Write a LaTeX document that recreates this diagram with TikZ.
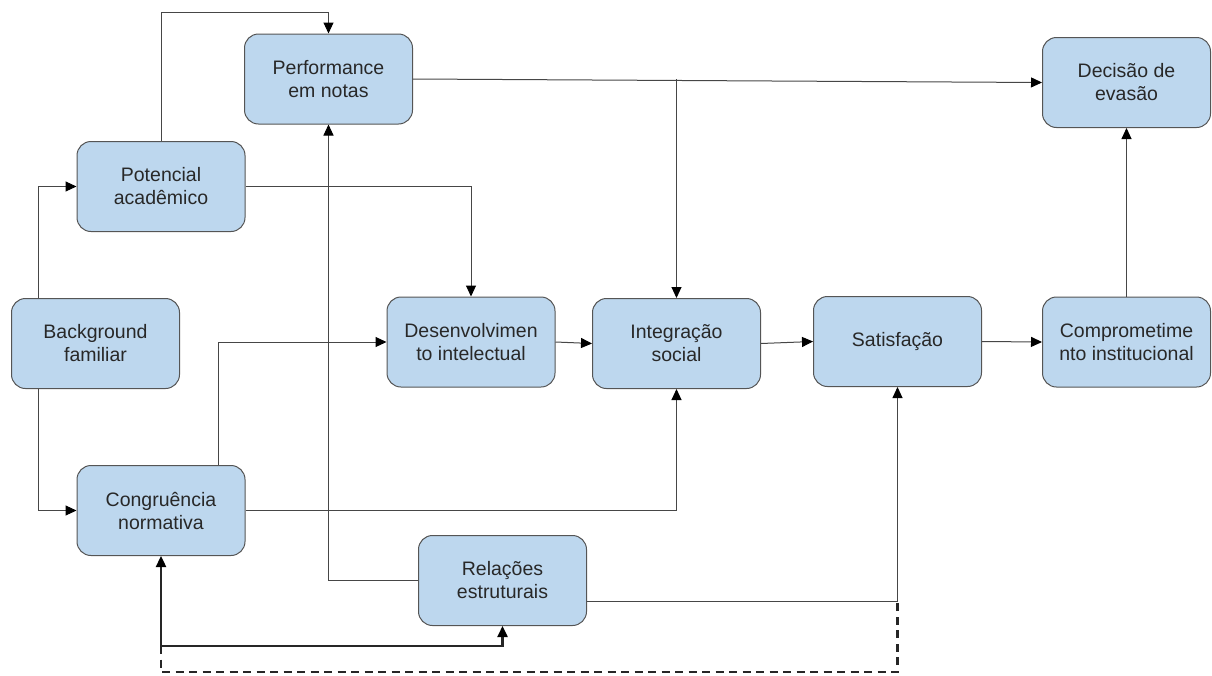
\documentclass[tikz,border=0pt]{standalone}
\usepackage{fontspec}
\setmainfont{Liberation Sans}
\usetikzlibrary{arrows.meta,calc}
\definecolor{boxfill}{RGB}{189,215,238}
\definecolor{boxdraw}{RGB}{85,85,85}
\definecolor{txt}{RGB}{40,40,40}
\definecolor{ln}{RGB}{70,70,70}
\tikzset{
  box/.style={draw=boxdraw, line width=1pt, fill=boxfill, rounded corners=14pt,
    minimum width=168pt, minimum height=90pt, inner sep=0pt, align=center,
    text=txt, font=\fontsize{19.5}{23}\selectfont},
  tip/.tip={Triangle[length=11pt,width=10pt,fill=black,color=black]},
  arr/.style={draw=ln, line width=1pt, -tip},
  thk/.style={draw=black!85, line width=2.4pt},
  dsh/.style={draw=black!85, line width=2.4pt, dash pattern=on 8pt off 5.5pt},
}
\begin{document}
\begin{tikzpicture}[x=1pt,y=-1pt]
\useasboundingbox (0,0) rectangle (1212,675);
\node[box] (perf) at (328.5,79) {Performance\\em notas};
\node[box] (deci) at (1126.5,82.5) {Decisão de\\evasão};
\node[box] (pot) at (161,186.5) {Potencial\\acadêmico};
\node[box] (back) at (95.5,343.5) {Background\\familiar};
\node[box] (desen) at (471,342) {Desenvolvimen\\to intelectual};
\node[box] (integ) at (676.5,343.5) {Integração\\social};
\node[box] (satis) at (897.5,341.5) {Satisfação};
\node[box] (comp) at (1126.5,342) {Comprometime\\nto institucional};
\node[box] (cong) at (161,510.5) {Congruência\\normativa};
\node[box] (rel) at (502.5,580.5) {Relações\\estruturais};

\coordinate (t1) at (161,12);
\coordinate (bx) at (38,0);
\coordinate (cx) at (218,0);
\coordinate (r1) at (587,601);
\coordinate (b1) at (161,646);
\coordinate (b2) at (161,672);

\draw[arr] (pot.north) -- (t1) -| (perf.north);
\draw[arr] (back.north -| bx) |- (pot.west);
\draw[arr] (back.south -| bx) |- (cong.west);
\draw[arr] (pot.east) -| (desen.north);
\draw[arr] (cong.north -| cx) |- (desen.west);
\draw[arr] (perf.east) -- (deci.west);
\draw[arr] (perf.east -| integ.north) -- (integ.north);
\draw[arr] (desen.east) -- (integ.west);
\draw[arr] (integ.east) -- (satis.west);
\draw[arr] (satis.east) -- (comp.west);
\draw[arr] (comp.north) -- (deci.south);
\draw[arr] (cong.east) -| (integ.south);
\draw[arr] (rel.west) -| (perf.south);
\draw[arr] (r1) -| (satis.south);

\draw[thk, tip-tip] (cong.south) -- (b1) -| (rel.south);
\draw[dsh] (b1) -- (b2) -| (satis.south |- r1);
\end{tikzpicture}
\end{document}
